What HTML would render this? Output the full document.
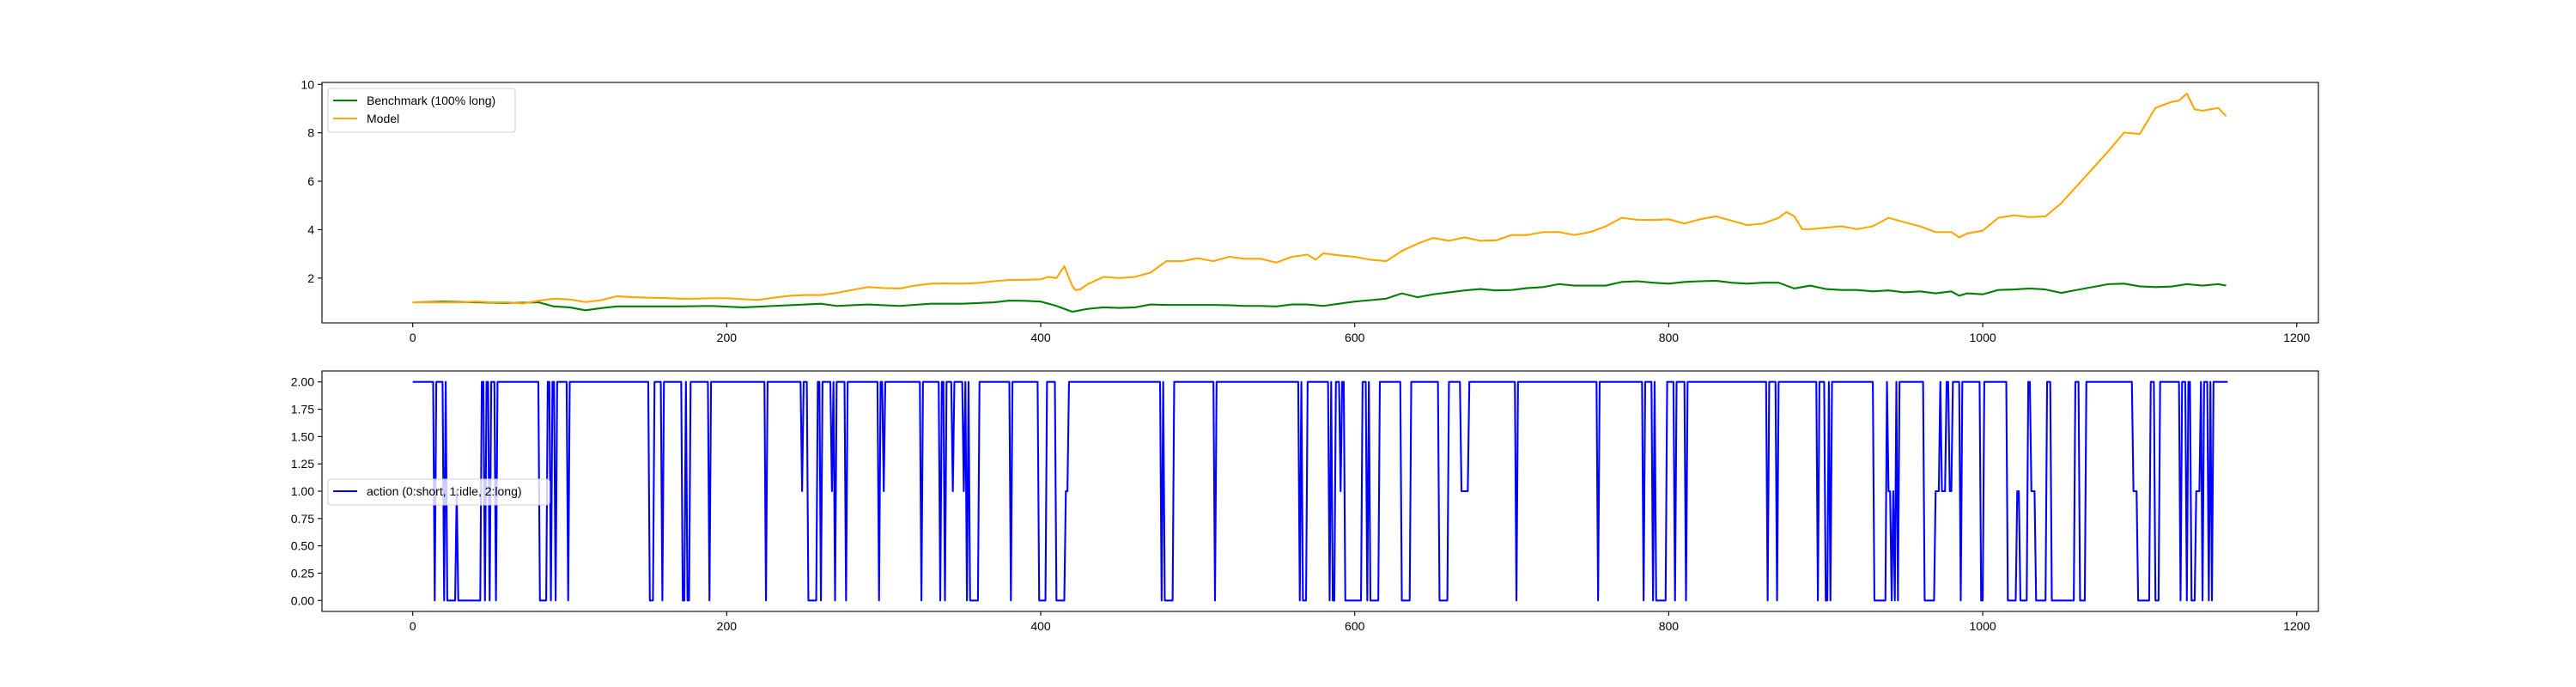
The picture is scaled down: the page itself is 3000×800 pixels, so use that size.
<!DOCTYPE html>
<html><head><meta charset="utf-8"><style>
html,body{margin:0;padding:0;background:#fff;}
svg{display:block;font-family:"Liberation Sans","DejaVu Sans",sans-serif;}
</style></head><body>
<svg id="chart" width="3000" height="800" viewBox="0 0 3000 800" xmlns="http://www.w3.org/2000/svg"></svg>
<script>
const modelX=[0,10,20,30,40,50,60,70,80,90,100,110,120,130,140,150,160,170,180,190,200,210,220,230,240,250,260,270,280,290,300,310,320,330,340,350,360,370,380,390,400,405,410,415,420,422,425,430,440,450,460,470,480,490,500,510,520,530,540,550,560,570,575,580,590,600,610,620,630,640,650,660,670,680,690,700,710,720,730,740,750,760,770,780,790,800,810,820,830,840,850,860,870,875,880,885,890,900,910,920,930,940,950,960,970,980,985,990,1000,1010,1020,1030,1040,1050,1060,1070,1080,1090,1100,1110,1120,1125,1130,1135,1140,1150,1155];
const modelY=[1.0,1.0,1.0,1.0,1.03,1.0,1.0,0.95,1.06,1.15,1.12,1.01,1.09,1.25,1.21,1.19,1.18,1.15,1.15,1.17,1.17,1.13,1.1,1.19,1.27,1.3,1.3,1.39,1.51,1.63,1.59,1.57,1.69,1.77,1.78,1.77,1.8,1.87,1.92,1.93,1.95,2.05,2.0,2.49,1.69,1.51,1.53,1.75,2.05,2.0,2.05,2.23,2.7,2.7,2.82,2.7,2.88,2.8,2.8,2.64,2.88,2.97,2.76,3.02,2.94,2.88,2.76,2.7,3.12,3.42,3.66,3.54,3.68,3.54,3.56,3.78,3.78,3.9,3.9,3.78,3.9,4.14,4.49,4.41,4.4,4.43,4.25,4.43,4.55,4.37,4.19,4.25,4.49,4.73,4.55,4.02,4.02,4.08,4.14,4.02,4.14,4.49,4.31,4.14,3.9,3.9,3.68,3.84,3.96,4.49,4.59,4.52,4.55,5.09,5.81,6.52,7.24,8.01,7.95,9.03,9.27,9.33,9.62,8.97,8.91,9.03,8.69];
const benchX=[0,20,40,60,80,90,100,110,120,130,150,170,190,210,230,250,260,270,290,310,330,350,370,380,390,400,410,420,430,440,450,460,470,480,490,500,510,520,530,540,550,560,570,580,590,600,610,620,630,640,650,660,670,680,690,700,710,720,730,740,750,760,770,780,790,800,810,820,830,840,850,860,870,880,890,900,910,920,930,940,950,960,970,980,985,990,1000,1010,1020,1030,1040,1050,1060,1070,1080,1090,1100,1110,1120,1130,1140,1150,1155];
const benchY=[1.0,1.03,1.0,0.97,1.0,0.83,0.79,0.67,0.76,0.83,0.83,0.83,0.85,0.79,0.85,0.91,0.94,0.85,0.91,0.85,0.94,0.94,1.0,1.07,1.06,1.03,0.85,0.61,0.73,0.79,0.77,0.79,0.91,0.89,0.89,0.89,0.89,0.88,0.85,0.85,0.83,0.91,0.91,0.85,0.94,1.03,1.09,1.15,1.37,1.21,1.33,1.41,1.49,1.55,1.49,1.51,1.59,1.63,1.75,1.69,1.69,1.69,1.84,1.87,1.81,1.77,1.84,1.87,1.89,1.81,1.77,1.81,1.81,1.57,1.69,1.55,1.51,1.51,1.45,1.49,1.41,1.45,1.37,1.45,1.27,1.37,1.33,1.51,1.53,1.57,1.53,1.39,1.51,1.63,1.75,1.77,1.66,1.63,1.65,1.75,1.69,1.75,1.69];
const actionStart=[0,14,15,20,21,22,28,29,44,46,47,49,50,53,54,81,86,88,89,91,92,99,100,151,154,159,160,172,174,175,177,189,190,225,226,248,249,252,258,260,261,267,268,269,270,276,277,297,298,300,301,324,325,336,337,339,340,344,345,351,352,353,354,355,361,381,382,399,404,410,416,418,477,478,479,485,511,512,565,566,567,570,584,585,586,588,591,592,594,605,608,609,610,616,630,636,654,660,668,673,703,704,755,756,784,785,790,791,792,799,804,805,811,812,863,864,869,870,895,896,900,902,903,904,931,939,940,942,943,944,945,946,947,963,970,973,974,977,979,981,986,987,999,1001,1016,1022,1024,1029,1031,1034,1041,1044,1059,1062,1066,1096,1099,1107,1110,1113,1126,1127,1130,1131,1133,1136,1139,1140,1141,1144,1145,1146,1147];
const actionValue=[2,0,2,0,2,0,1,0,2,0, 2,0,2,0,2,0,2,0,2,0, 2,0,2,0,2,0,2,0,2,0, 2,0,2,0,2,1,2,0,2,0, 2,1,2,0,2,0,2,0,2,1, 2,0,2,0,2,0,2,1,2,1, 2,0,2,0,2,0,2,0,2,0, 1,2,0,2,0,2,0,2,0,2, 0,2,0,2,0,2,1,2,0,2, 0,2,0,2,0,2,0,2,1,2, 0,2,0,2,0,2,0,2,0,2, 0,2,0,2,0,2,0,2,0,2, 0,2,0,2,0,2,1,0,1,0, 2,0,2,0,1,2,1,2,1,2, 0,2,0,2,0,1,0,2,1,0, 2,0,2,0,2,1,0,2,0,2, 0,2,0,2,0,1,2,0,2,0, 2,0,2];
const actionEnd=1156;
const xTicks=[0,200,400,600,800,1000,1200];
const topYTicks=[2,4,6,8,10];
const botYTicks=[0,0.25,0.5,0.75,1,1.25,1.5,1.75,2];

const NS="http://www.w3.org/2000/svg";
const svgEl=document.getElementById('chart');
function mk(tag,attrs,parent){const e=document.createElementNS(NS,tag);for(const k in attrs)e.setAttribute(k,attrs[k]);(parent||svgEl).appendChild(e);return e;}
const L=375,R=2700,W=R-L;
const xMin=-57.8,xMax=1213.8;
const sx=v=>L+(v-xMin)/(xMax-xMin)*W;
const axTop={t:96,b:376,min:0.15,max:10.08};
const axBot={t:432,b:712,min:-0.1,max:2.1};
const sy=(ax,v)=>ax.b-(v-ax.min)/(ax.max-ax.min)*(ax.b-ax.t);

function axes(ax,name,yTicks,fmt){
  const g=mk('g',{});
  
  
  xTicks.forEach(t=>{
    const x=sx(t);
    const tk=mk('line',{x1:x,x2:x,y1:ax.b,y2:ax.b+5,stroke:'#000','stroke-width':1.1},g);
    
    
    const lb=mk('text',{x:x,y:ax.b+22,'font-size':14,'text-anchor':'middle',fill:'#000'},g);
    lb.textContent=t;
    
    
  });
  yTicks.forEach(t=>{
    const y=sy(ax,t);
    const tk=mk('line',{x1:L-5,x2:L,y1:y,y2:y,stroke:'#000','stroke-width':1.1},g);
    
    
    const lb=mk('text',{x:L-9,y:y+5,'font-size':14,'text-anchor':'end',fill:'#000'},g);
    lb.textContent=fmt(t);
    
    
  });
  return g;
}
function frame(ax,name){
  const r=mk('rect',{x:L,y:ax.t,width:W,height:ax.b-ax.t,fill:'none',stroke:'#000','stroke-width':1.1});
  
  
}
axes(axTop,'top-axes',topYTicks,t=>String(t));
axes(axBot,'bottom-axes',botYTicks,t=>t.toFixed(2));

function linePath(xs,ys,ax){
  const n=Math.min(xs.length,ys.length);let p='';
  for(let i=0;i<n;i++)p+=(i?'L':'M')+sx(xs[i]).toFixed(2)+','+sy(ax,ys[i]).toFixed(2);
  return p;
}
const bl=mk('path',{d:linePath(benchX,benchY,axTop),fill:'none',stroke:'#008000','stroke-width':2.1,'stroke-linejoin':'round'});


const ml=mk('path',{d:linePath(modelX,modelY,axTop),fill:'none',stroke:'#ffa500','stroke-width':2.1,'stroke-linejoin':'round'});



let d='';
const nA=Math.min(actionStart.length,actionValue.length);
for(let i=0;i<nA;i++){
  const s=actionStart[i],e=(i+1<nA?actionStart[i+1]-1:actionEnd);
  const y=sy(axBot,actionValue[i]);
  d+=(i?'L':'M')+sx(s).toFixed(2)+','+y.toFixed(2)+'L'+sx(Math.max(s,e)).toFixed(2)+','+y.toFixed(2);
}
const al=mk('path',{d:d,fill:'none',stroke:'#0000ff','stroke-width':2.1,'stroke-linejoin':'round'});



frame(axTop,'top-plot-frame');
frame(axBot,'bottom-plot-frame');

function legend(x,y,w,entries,name){
  const g=mk('g',{});
  
  
  mk('rect',{x:x,y:y,width:w,height:entries.length*21+9,rx:3,fill:'#fff','fill-opacity':0.8,stroke:'#d0d0d0','stroke-width':1.1},g);
  entries.forEach((en,i)=>{
    const cy=y+14+i*21;
    const sw=mk('line',{x1:x+6,x2:x+34,y1:cy,y2:cy,stroke:en[1],'stroke-width':2.1},g);
    
    
    const t=mk('text',{x:x+45,y:cy+5,'font-size':14,fill:'#000'},g);
    t.textContent=en[0];
    
    
  });
}
legend(382,103,218,[['Benchmark (100% long)','#008000'],['Model','#ffa500']],'top-legend');
legend(382,558,258,[['action (0:short, 1:idle, 2:long)','#0000ff']],'bottom-legend');
</script>
</body></html>
